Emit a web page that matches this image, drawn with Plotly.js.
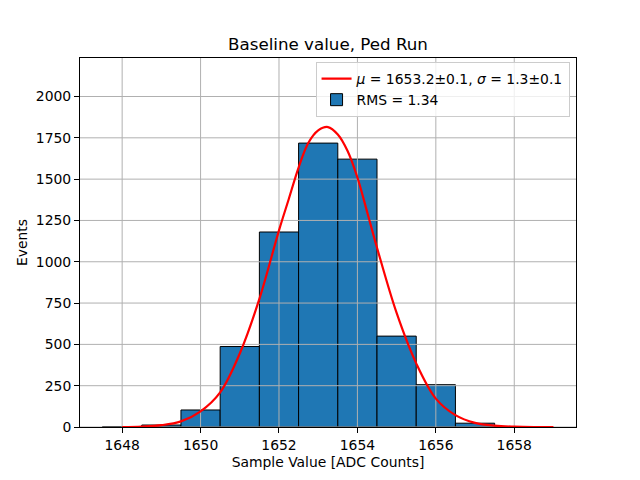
<!DOCTYPE html>
<html>
<head>
<meta charset="utf-8">
<script src="https://cdn.plot.ly/plotly-3.0.1.min.js"></script>
<style>html,body{margin:0;padding:0;background:#fff;}#chart{width:640px;height:480px;}</style>
</head>
<body>
<div id="chart"></div>
<script>
// Histogram bins (centres) and counts
const binCenters = [1648, 1649, 1650, 1651, 1652, 1653, 1654, 1655, 1656, 1657, 1658];
const binCounts  = [3, 12, 103, 487, 1180, 1718, 1621, 550, 256, 23, 2];

// Fitted curve
const fitX = [1648, 1648.5, 1649, 1649.5, 1650, 1650.5, 1651, 1651.5, 1652, 1652.25, 1652.5, 1652.75, 1653, 1653.25, 1653.5, 1653.75, 1654, 1654.25, 1654.5, 1655, 1655.5, 1656, 1656.5, 1657, 1657.5, 1658, 1658.5, 1659];
const fitY = [0, 3, 11, 34, 95, 210, 445, 775, 1190, 1380, 1570, 1720, 1795, 1815, 1770, 1670, 1510, 1300, 1085, 690, 385, 172, 72, 25, 8, 2, 0, 0];

const xTicks = [1648, 1650, 1652, 1654, 1656, 1658];
const yTicks = [0, 250, 500, 750, 1000, 1250, 1500, 1750, 2000];

const xRange = [1646.925, 1659.575];
const yRange = [0, 2233];

const gridColor = '#b0b0b0';
// grid lines above bars but below the fit curve (matplotlib default)
const gx = [], gy = [];
xTicks.forEach(t => { gx.push(t, t, null); gy.push(yRange[0], yRange[1], null); });
yTicks.forEach(t => { gx.push(xRange[0], xRange[1], null); gy.push(t, t, null); });

const traces = [
  {
    type: 'bar', x: binCenters, y: binCounts, width: 1,
    name: 'RMS = 1.34', legendrank: 2,
    marker: {color: '#1f77b4', line: {color: '#000000', width: 1}},
    hoverinfo: 'x+y'
  },
  {
    type: 'scatter', mode: 'lines', x: gx, y: gy, showlegend: false,
    line: {color: gridColor, width: 1}, hoverinfo: 'skip'
  },
  {
    type: 'scatter', mode: 'lines', x: fitX, y: fitY,
    name: '<i>μ</i> = 1653.2±0.1, <i>σ</i> = 1.3±0.1', legendrank: 1,
    line: {color: '#ff0000', width: 2.2, shape: 'spline', smoothing: 1}
  }
];

const font = {family: 'DejaVu Sans, sans-serif', size: 13.9, color: '#000'};

const layout = {
  width: 640, height: 480,
  margin: {l: 80, r: 64, t: 58, b: 53},
  paper_bgcolor: '#fff', plot_bgcolor: '#fff',
  font: font,
  showlegend: true,
  title: {text: 'Baseline value, Ped Run', font: {family: font.family, size: 16.7, color: '#000'},
          x: 0.5, xref: 'paper', xanchor: 'center', y: 1 - 44/480, yanchor: 'middle'},
  xaxis: {
    range: xRange, tickvals: xTicks, ticktext: xTicks.map(String),
    showgrid: false, zeroline: false,
    showline: true, mirror: true, linecolor: '#000', linewidth: 1,
    ticks: 'outside', ticklen: 5, tickwidth: 1, tickcolor: '#000',
    title: {text: 'Sample Value [ADC Counts]', font: font, standoff: 5}
  },
  yaxis: {
    range: yRange, tickvals: yTicks, ticktext: yTicks.map(String),
    showgrid: false, zeroline: false,
    showline: true, mirror: true, linecolor: '#000', linewidth: 1,
    ticks: 'outside', ticklen: 5, tickwidth: 1, tickcolor: '#000',
    title: {text: 'Events', font: font, standoff: 4}
  },
  legend: {
    x: 0.987, y: 0.989, xanchor: 'right', yanchor: 'top',
    bgcolor: 'rgba(255,255,255,0.8)', bordercolor: '#cccccc', borderwidth: 1,
    font: font, tracegroupgap: 0
  },
  bargap: 0
};

Plotly.newPlot('chart', traces, layout, {displayModeBar: false, staticPlot: true});
</script>
</body>
</html>
